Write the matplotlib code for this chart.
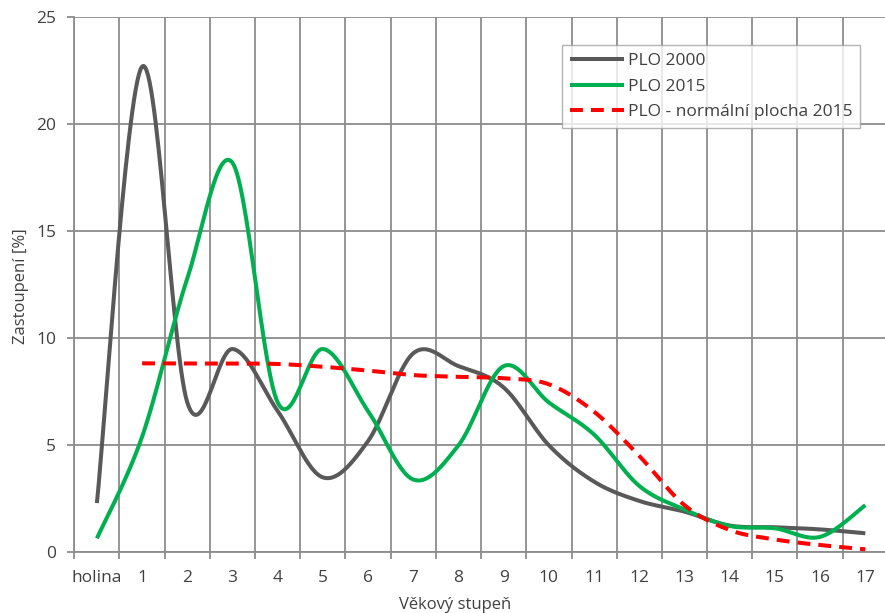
import numpy as np
import matplotlib
matplotlib.use("Agg")
import matplotlib.pyplot as plt

categories = ["holina"] + [str(i) for i in range(1, 18)]
plo_2000 = [2.3, 22.7, 7.0, 9.5, 6.6, 3.5, 5.2, 9.3, 8.7, 7.7, 5.0, 3.3, 2.4, 1.9, 1.25, 1.17, 1.07, 0.89]
plo_2015 = [0.65, 5.4, 12.8, 18.2, 7.0, 9.5, 6.6, 3.4, 5.0, 8.7, 7.0, 5.5, 3.1, 2.0, 1.23, 1.12, 0.72, 2.2]
plo_norm = [None, 8.83, 8.82, 8.82, 8.8, 8.67, 8.49, 8.28, 8.2, 8.13, 7.85, 6.57, 4.5, 2.2, 1.04, 0.6, 0.34, 0.14]

y_label = "Zastoupení [%]"
x_label = "Věkový stupeň"
legend_labels = ["PLO 2000", "PLO 2015", "PLO - normální plocha 2015"]


def smooth(xs, ys, n=30):
    xs = np.asarray(xs, float)
    ys = np.asarray(ys, float)
    P = np.column_stack([xs, ys])
    out = []
    m = len(P)
    for i in range(m - 1):
        p0 = P[i - 1] if i > 0 else P[i]
        p1 = P[i]
        p2 = P[i + 1]
        p3 = P[i + 2] if i + 2 < m else P[i + 1]
        c1 = p1 + (p2 - p0) / 6.0
        c2 = p2 - (p3 - p1) / 6.0
        t = np.linspace(0, 1, n, endpoint=(i == m - 2))[:, None]
        seg = ((1 - t) ** 3) * p1 + 3 * ((1 - t) ** 2) * t * c1 + 3 * (1 - t) * t ** 2 * c2 + t ** 3 * p2
        out.append(seg)
    out = np.vstack(out)
    return out[:, 0], out[:, 1]


plt.rcParams['font.family'] = ['Open Sans', 'DejaVu Sans']

fig = plt.figure(figsize=(8.85, 6.13), dpi=100)
ax_w = 18 * 45.2
ax = fig.add_axes([74.3 / 885, 60.7 / 613, ax_w / 885, 535 / 613])

x = np.arange(len(categories))
grid_c = "#8c8c8c"
txt_c = "#404040"

sx, sy = smooth(x, plo_2000)
ax.plot(sx, sy, color="#595959", lw=2.9, solid_capstyle="butt", label=legend_labels[0], zorder=3)
sx, sy = smooth(x, plo_2015)
ax.plot(sx, sy, color="#00b050", lw=2.9, solid_capstyle="butt", label=legend_labels[1], zorder=4)
xi = [i for i, v in enumerate(plo_norm) if v is not None]
yi = [v for v in plo_norm if v is not None]
sx, sy = smooth(xi, yi)
ax.plot(sx, sy, color="#ff0000", lw=2.9, dashes=(3.2, 2.0), label=legend_labels[2], zorder=5)

ax.set_xlim(-0.5, 17.5)
ax.set_ylim(0, 25)
ax.set_yticks([0, 5, 10, 15, 20, 25])
ax.set_xticks(x)
ax.set_xticklabels(categories)
ax.set_xticks(np.arange(-0.5, 18, 1), minor=True)
ax.tick_params(axis="x", which="major", length=0, pad=13, labelsize=12.5, colors=txt_c)
ax.tick_params(axis="x", which="minor", length=5, width=1.3, color=grid_c)
ax.tick_params(axis="y", length=5, width=1.3, color=grid_c, labelsize=12.5, labelcolor=txt_c, pad=8)
ax.grid(True, which="minor", axis="x", color=grid_c, lw=1.3)
ax.grid(True, which="major", axis="y", color=grid_c, lw=1.3)
for s in ["top", "right"]:
    ax.spines[s].set_visible(False)
for s in ["left", "bottom"]:
    ax.spines[s].set_color(grid_c)
    ax.spines[s].set_linewidth(1.3)
ax.set_axisbelow(True)

ax.set_ylabel(y_label, fontsize=12, color=txt_c)
ax.yaxis.set_label_coords(-(74.3 - 29) / ax_w, (552.3 - 286) / 535)
ax.set_xlabel(x_label, fontsize=12, color=txt_c, va="center")
ax.xaxis.set_label_coords((455 - 74.3) / ax_w, -(605 - 552.3) / 535)

leg = ax.legend(loc="upper left", bbox_to_anchor=((562 - 74.3) / ax_w, (552.3 - 45) / 535),
                frameon=True, fancybox=False, fontsize=12.5, handlelength=3.1, handletextpad=0.25,
                borderpad=0.45, labelspacing=0.55, borderaxespad=0)
leg.get_frame().set_edgecolor("#a0a0a0")
leg.get_frame().set_linewidth(1.0)
for t in leg.get_texts():
    t.set_color(txt_c)

fig.savefig("out.png", dpi=100)
